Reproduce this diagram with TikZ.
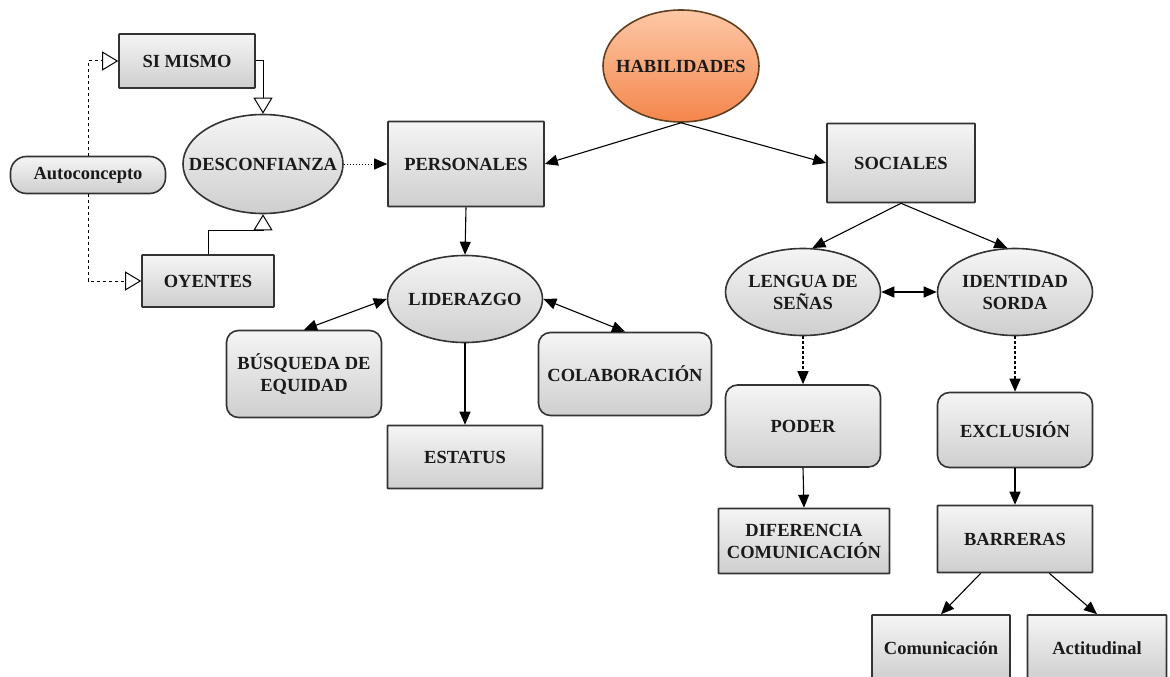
\documentclass[tikz,border=0pt]{standalone}
\usepackage{fontspec}
\setmainfont{Liberation Serif}
\usetikzlibrary{arrows.meta,shapes.geometric}
\definecolor{borde}{HTML}{333333}
\definecolor{texto}{HTML}{1A1A1A}
\definecolor{naranjaclaro}{HTML}{FDC8A6}
\definecolor{naranja}{HTML}{F4864C}
\begin{document}
\begin{tikzpicture} [x=1pt, y=-1pt,
    base/.style={draw=borde, line width=1.6pt, text=texto, align=center, inner sep=1pt,
      font=\bfseries\fontsize{18.5}{22}\selectfont, top color=gray!8, bottom color=gray!38},
    caja/.style={base, rectangle, rounded corners=0.6pt},
    redondo/.style={base, rectangle, rounded corners=12pt},
    elipse/.style={base, ellipse, inner xsep=-25pt, inner ysep=0pt},
    raiz/.style={elipse, draw=brown!50!black, top color=naranjaclaro, bottom color=naranja},
    flecha/.style={line width=1.1pt, -{Triangle[length=13pt,width=11pt]}},
    doble/.style={line width=1.1pt, {Triangle[length=13pt,width=11pt]}-{Triangle[length=13pt,width=11pt]}},
    abierta/.style={line width=1pt, -{Triangle[open,length=16pt,width=19pt,fill=white]}}]
    \useasboundingbox (0, 0) rectangle (1170, 677);
    \clip (0, 0) rectangle (1170, 677);
    \node[raiz, minimum width=156pt, minimum height=112pt] (hab) at (681, 66) {HABILIDADES};
    \node[caja, minimum width=156pt, minimum height=85pt] (pers) at (466, 164) {PERSONALES};
    \node[caja, minimum width=148pt, minimum height=79pt] (soc) at (901, 163) {SOCIALES};
    \node[caja, minimum width=136pt, minimum height=54pt] (simismo) at (187, 61) {SI MISMO};
    \node[elipse, minimum width=160pt, minimum height=99pt] (desconf) at (263, 164) {DESCONFIANZA};
    \node[base, rounded corners=16pt, minimum width=155pt, minimum height=37pt] (autoc) at (88, 175) {Autoconcepto};
    \node[caja, minimum width=132pt, minimum height=52pt] (oyentes) at (208, 281) {OYENTES};
    \node[elipse, minimum width=155pt, minimum height=87pt] (lider) at (465, 299) {LIDERAZGO};
    \node[redondo, minimum width=155pt, minimum height=87pt] (busq) at (304, 374) {BÚSQUEDA DE\\EQUIDAD};
    \node[redondo, minimum width=173pt, minimum height=83pt] (colab) at (625, 374) {COLABORACIÓN};
    \node[caja, minimum width=155pt, minimum height=63pt] (estatus) at (465, 457) {ESTATUS};
    \node[elipse, minimum width=155pt, minimum height=87pt] (lengua) at (803, 292) {LENGUA DE\\SEÑAS};
    \node[elipse, minimum width=155pt, minimum height=87pt] (ident) at (1015, 292) {IDENTIDAD\\SORDA};
    \node[redondo, minimum width=155pt, minimum height=82pt] (poder) at (803, 426) {PODER};
    \node[redondo, minimum width=155pt, minimum height=75pt] (exclu) at (1015, 430) {EXCLUSIÓN};
    \node[caja, minimum width=171pt, minimum height=65pt] (difer) at (804, 541) {DIFERENCIA\\COMUNICACIÓN};
    \node[caja, minimum width=155pt, minimum height=67pt] (barreras) at (1015, 539) {BARRERAS};
    \node[caja, minimum width=138pt, minimum height=66pt] (comun) at (941, 648) {Comunicación};
    \node[caja, minimum width=139pt, minimum height=66pt] (actit) at (1097, 648) {Actitudinal};
    \draw[flecha] (hab.south) -- (pers.east);
    \draw[flecha] (hab.south) -- (soc.west);
    \draw[flecha, dash pattern=on 1.5pt off 1.5pt, line width=0.8pt] (desconf.east) -- (pers.west);
    \draw[abierta] (simismo.east) -| (desconf.north);
    \draw[abierta] (oyentes.north) -- ++(0, -24) -| (desconf.south);
    \draw[abierta, dash pattern=on 3pt off 3pt] (autoc.north) |- (simismo.west);
    \draw[abierta, dash pattern=on 3pt off 3pt] (autoc.south) |- (oyentes.west);
    \draw[flecha] (pers.south) -- (lider.north);
    \draw[doble] (lider.west) -- (busq.north);
    \draw[doble] (lider.east) -- (colab.north);
    \draw[flecha] (lider.south) -- (estatus.north);
    \draw[flecha] (soc.south) -- (lengua.78);
    \draw[flecha] (soc.south) -- (ident.100);
    \draw[doble] (lengua.east) -- (ident.west);
    \draw[flecha, dash pattern=on 2.5pt off 2.5pt] (lengua.south) -- (poder.north);
    \draw[flecha, dash pattern=on 2.5pt off 2.5pt] (ident.south) -- (exclu.north);
    \draw[flecha] (poder.south) -- (difer.north);
    \draw[flecha] (exclu.south) -- (barreras.north);
    \draw[flecha] (barreras.-135) -- (comun.north);
    \draw[flecha] (barreras.-45) -- (actit.north);
\end{tikzpicture}
\end{document}
